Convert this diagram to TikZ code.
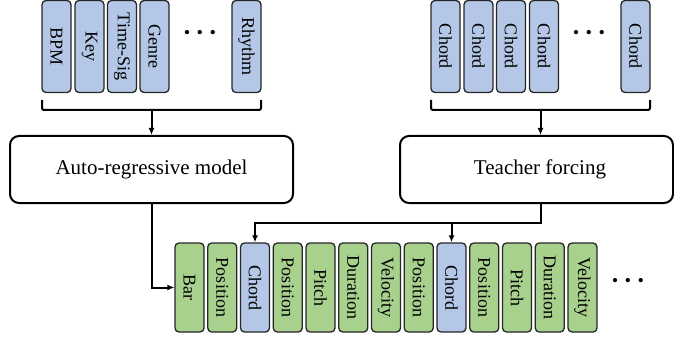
\documentclass[tikz,border=0pt]{standalone}
\usepackage{fontspec}
\setmainfont{Liberation Serif}
\usetikzlibrary{arrows.meta}
\definecolor{tokblue}{HTML}{B4C7E7}
\definecolor{tokgreen}{HTML}{A9D18E}
\definecolor{tokline}{HTML}{262626}
\begin{document}
\begin{tikzpicture}[x=1pt,y=-1pt,
  tok/.style={draw=tokline,line width=1.3pt,rounded corners=4pt,minimum width=29pt,inner sep=0pt,
    font=\fontsize{18}{18}\selectfont},
  toptok/.style={tok,minimum height=92pt},
  bottok/.style={tok,minimum height=89pt},
  bluetok/.style={fill=tokblue},
  greentok/.style={fill=tokgreen},
  bigbox/.style={draw,line width=2pt,rounded corners=9pt,minimum height=67pt,inner sep=0pt,
    font=\fontsize{21}{21}\selectfont},
  conn/.style={line width=2pt},
  arr/.style={conn,-{Latex[length=7pt,width=6pt]}},
  dotsnode/.style={inner sep=0pt,font=\fontsize{36}{36}\selectfont}
]
\useasboundingbox (0,0) rectangle (674,339);
% top left tokens
\foreach \n/\x/\t in {a1/56.5/BPM, a2/89.5/Key, a3/122/Time-Sig, a4/154.5/Genre, a5/246.5/Rhythm}
  \node[toptok,bluetok] (\n) at (\x,46.5) {\rotatebox{-90}{\t}};
\node[dotsnode] (adots) at (200,37) {·\hspace{1pt}·\hspace{1pt}·};
% top right tokens
\foreach \n/\x in {b1/445.5, b2/478.5, b3/511, b4/544, b5/635.5}
  \node[toptok,bluetok] (\n) at (\x,46.5) {\rotatebox{-90}{Chord}};
\node[dotsnode] (bdots) at (589,37) {·\hspace{1pt}·\hspace{1pt}·};
% braces
\coordinate (la) at (42,100);
\coordinate (ra) at (261,100);
\coordinate (ma) at (151.5,110);
\coordinate (lb) at (431,100);
\coordinate (rb) at (650,100);
\coordinate (mb) at (540.5,110);
\draw[conn,rounded corners=2pt] (la) -- (42,110) -- (261,110) -- (ra);
\draw[conn,rounded corners=2pt] (lb) -- (431,110) -- (650,110) -- (rb);
% big boxes
\node[bigbox,minimum width=283pt] (AR) at (151.5,169.5) {Auto-regressive model};
\node[bigbox,minimum width=273pt] (TF) at (536.5,169.5) {\hspace{7pt}Teacher forcing};
\draw[arr] (ma) -- (ma |- AR.north);
\draw[arr] (mb) -- (mb |- TF.north);
% bottom tokens
\foreach \n/\x/\t/\c in {c1/189.5/Bar/greentok, c2/222.25/Position/greentok, c3/255/Chord/bluetok,
    c4/287.75/Position/greentok, c5/320.5/Pitch/greentok, c6/353.25/Duration/greentok,
    c7/386/Velocity/greentok, c8/418.75/Position/greentok, c9/451.5/Chord/bluetok,
    c10/484.25/Position/greentok, c11/517/Pitch/greentok, c12/549.75/Duration/greentok,
    c13/582.5/Velocity/greentok}
  \node[bottok,\c] (\n) at (\x,287.5) {\rotatebox{-90}{\t}};
\node[dotsnode] (cdots) at (628,285) {·\hspace{1pt}·\hspace{1pt}·};
% connectors
\draw[arr] (AR.south) |- (c1.west);
\coordinate (tfo) at (mb |- TF.south);
\coordinate (junc) at (540.5,223);
\draw[arr] (tfo) -- (junc) -| (c3.north);
\draw[arr] (c9.north |- junc) -- (c9.north);
\end{tikzpicture}
\end{document}
